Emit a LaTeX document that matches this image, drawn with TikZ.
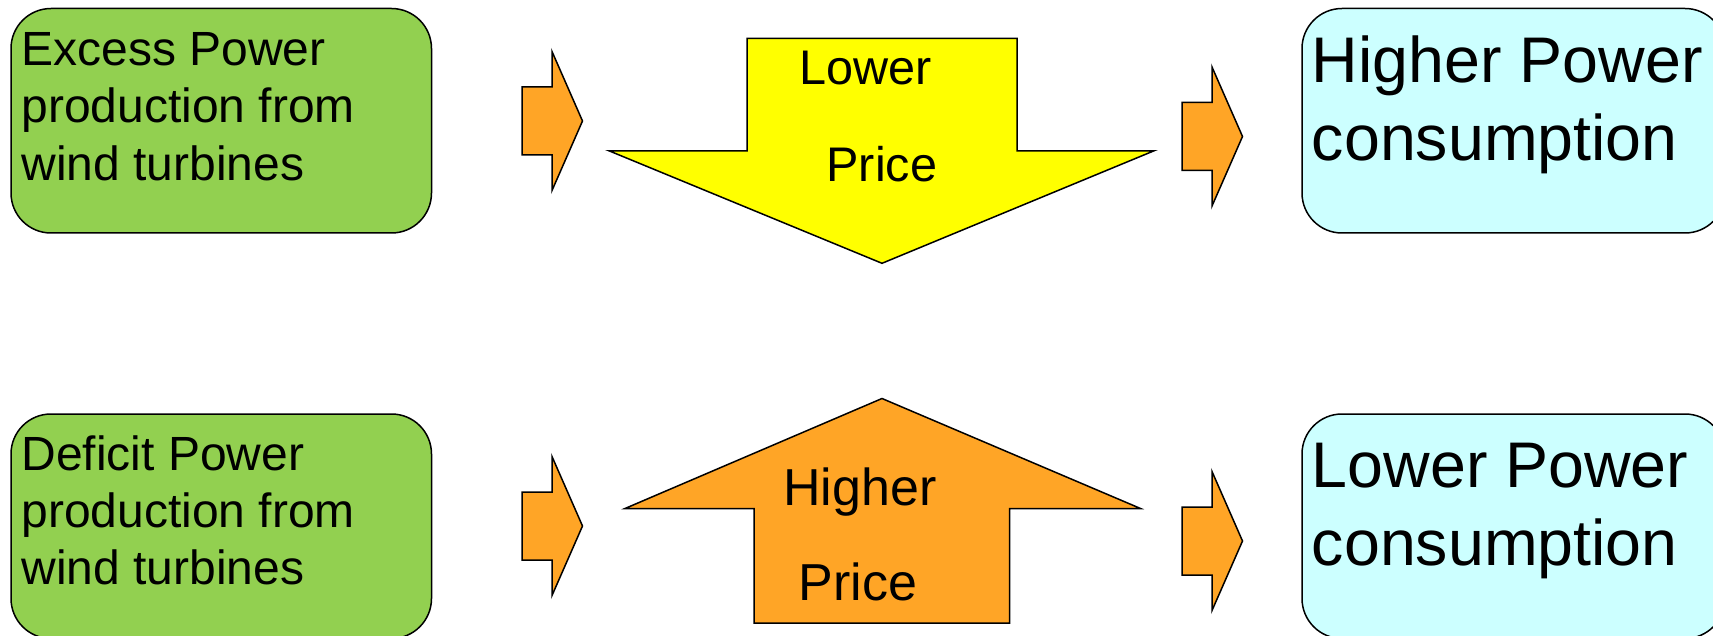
\documentclass[tikz,border=0pt]{standalone}
\usepackage{fontspec}
\setmainfont{Liberation Sans}
\definecolor{boxgreen}{HTML}{92D050}
\definecolor{boxcyan}{HTML}{CCFFFF}
\definecolor{arryellow}{HTML}{FFFF00}
\definecolor{arrorange}{HTML}{FFA526}
\tikzset{
  outline/.style={draw=black, line width=0.75pt, line join=miter},
  roundbox/.style={outline, rounded corners=20pt, inner sep=0pt},
  greenbox/.style={roundbox, fill=boxgreen, minimum width=210.25pt, minimum height=112.25pt},
  cyanbox/.style={roundbox, fill=boxcyan, minimum width=211.5pt, minimum height=112.25pt},
  lbl/.style={anchor=base west, inner sep=0pt, text=black},
  greentext/.style={lbl, font=\fontsize{24}{28.6}\selectfont},
  cyantext/.style={lbl, font=\fontsize{32.25}{38.75}\selectfont},
  pricetext/.style={lbl, font=\fontsize{24.3}{29}\selectfont},
  pricetextB/.style={lbl, font=\fontsize{26}{31}\selectfont},
  blockarrow/.pic={\path[outline, fill=arrorange] (0,-34) -- (30,-34) -- (30,-69.5) -- (60.5,0) -- (30,69.5) -- (30,34) -- (0,34) -- cycle;}
}
\begin{document}
\begin{tikzpicture}[x=0.5pt,y=-0.5pt]
\useasboundingbox (0,0) rectangle (1713,636);
\clip (0,0) rectangle (1713,636);
% boxes
\node[greenbox] (exc) at (221.25,120.75) {};
\node[greenbox] (def) at (221.25,526.25) {};
\node[cyanbox] (hpc) at (1513.5,120.75) {};
\node[cyanbox] (lpc) at (1513.5,526.25) {};
% box texts
\node[greentext] (exct) at (21,65.7) {\begin{tabular}[t]{@{}l@{}}Excess Power\\production from\\wind turbines\end{tabular}};
\node[greentext] (deft) at (21,470.5) {\begin{tabular}[t]{@{}l@{}}Deficit Power\\production from\\wind turbines\end{tabular}};
\node[cyantext] (hpct) at (1311.5,82.7) {\begin{tabular}[t]{@{}l@{}}Higher Power\\consumption\end{tabular}};
\node[cyantext] (lpct) at (1311.5,487.5) {\begin{tabular}[t]{@{}l@{}}Lower Power\\consumption\end{tabular}};
% small block arrows
\pic at (522,121) {blockarrow};
\pic at (1182,136.5) {blockarrow};
\pic at (522,526) {blockarrow};
\pic at (1182,541) {blockarrow};
% big down arrow (yellow)
\path[outline, fill=arryellow] (747,38.3) -- (1017,38.3) -- (1017,150.8) -- (1154,150.8) -- (882,263.3) -- (609,150.8) -- (747,150.8) -- cycle;
\node[pricetext] (lowp1) at (799,85) {Lower};
\node[pricetext] (lowp2) at (826,181.7) {Price};
% big up arrow (orange)
\path[outline, fill=arrorange] (882,398.5) -- (1140.5,508.5) -- (1009.5,508.5) -- (1009.5,623) -- (754,623) -- (754,508.5) -- (625,508.5) -- cycle;
\node[pricetextB] (highp1) at (783,505) {Higher};
\node[pricetextB] (highp2) at (798.5,600.7) {Price};
\end{tikzpicture}
\end{document}
